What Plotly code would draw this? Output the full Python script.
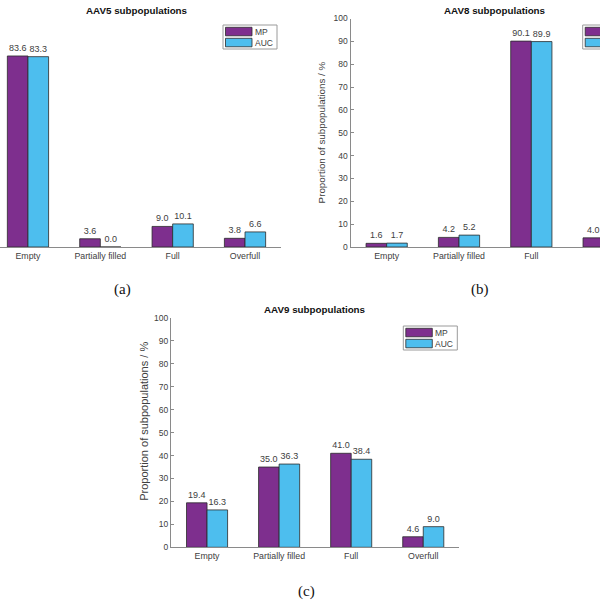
import plotly.graph_objects as go

categories = ["Empty", "Partially filled", "Full", "Overfull"]
series_names = ["MP", "AUC"]
aav5_mp = [83.6, 3.6, 9.0, 3.8]
aav5_auc = [83.3, 0.0, 10.1, 6.6]
aav8_mp = [1.6, 4.2, 90.1, 4.0]
aav8_auc = [1.7, 5.2, 89.9, 3.2]
aav9_mp = [19.4, 35.0, 41.0, 4.6]
aav9_auc = [16.3, 36.3, 38.4, 9.0]
titles = ["AAV5 subpopulations", "AAV8 subpopulations", "AAV9 subpopulations"]
panel_labels = ["(a)", "(b)", "(c)"]
y_title = "Proportion of subpopulations / %"

MP_COLOR = "#7E2F8E"
AUC_COLOR = "#4DBEEE"
EDGE = "#2b2b2b"
AXIS = "#8a8a8a"
TXT = "#404040"
FONT = "Liberation Sans, Arial, sans-serif"
W = H = 600


def px(x):
    return x / W


def py(y):
    return 1 - y / H


fig = go.Figure()

panels = [
    (aav5_mp, aav5_auc, "x", "y"),
    (aav8_mp, aav8_auc, "x2", "y2"),
    (aav9_mp, aav9_auc, "x3", "y3"),
]
for mp, auc, xa, ya in panels:
    for name, vals, col in [("MP", mp, MP_COLOR), ("AUC", auc, AUC_COLOR)]:
        fig.add_trace(go.Bar(
            x=categories, y=vals, name=name, xaxis=xa, yaxis=ya,
            marker=dict(color=col, line=dict(color=EDGE, width=0.8)),
            texttemplate="%{y:.1f}", textposition="outside",
            textfont=dict(size=9, color=TXT, family=FONT),
            cliponaxis=True, showlegend=False,
        ))

sp_a = 72.33
a_left, a_right = -8.2, 281.2
b_left = 350.5
c_left, c_right = 171.0, 459.3

common_x = dict(showline=True, linecolor=AXIS, linewidth=1, ticks="",
                showgrid=False, zeroline=False, automargin=False,
                tickfont=dict(size=8.8, color=TXT, family=FONT))
common_y = dict(range=[0, 100], dtick=10, ticks="inside", ticklen=3,
                tickcolor=AXIS, showline=True, linecolor=AXIS, linewidth=1,
                showgrid=False, zeroline=False, automargin=False,
                tickfont=dict(size=8.5, color=TXT, family=FONT))

fig.update_layout(
    template="none",
    width=W, height=H, margin=dict(l=0, r=0, t=0, b=0, pad=0, autoexpand=False),
    paper_bgcolor="white", plot_bgcolor="white",
    barmode="group", bargap=0.43, bargroupgap=0.0,
    font=dict(family=FONT),
    xaxis=dict(domain=[0, px(a_right)], anchor="y",
               range=[-0.5 + (0 - a_left) / sp_a, 3.5], **common_x),
    yaxis=dict(domain=[py(247), py(18.5)], anchor="x", visible=False,
               range=[0, 100], automargin=False),
    xaxis2=dict(domain=[px(b_left), 1.0], anchor="y2",
                range=[-0.5, -0.5 + (W - b_left) / sp_a], **common_x),
    yaxis2=dict(domain=[py(247), py(18.5)], anchor="x2", **common_y),
    xaxis3=dict(domain=[px(c_left), px(c_right)], anchor="y3",
                range=[-0.5, 3.5], **common_x),
    yaxis3=dict(domain=[py(547.3), py(318)], anchor="x3", **common_y),
)

ann = []
shapes = []
for t, (cx, cy) in zip(titles, [(136.5, 10), (495, 10), (315, 309)]):
    ann.append(dict(text="<b>%s</b>" % t, x=px(cx), y=py(cy), xref="paper", yref="paper",
                    showarrow=False, font=dict(size=9.8, color="#111", family=FONT),
                    xanchor="center", yanchor="middle"))
for (cx, cy, fs) in [(321.7, 132.7, 9.8), (143.3, 421.5, 11.0)]:
    ann.append(dict(text=y_title, x=px(cx), y=py(cy), xref="paper", yref="paper",
                    showarrow=False, textangle=-90, font=dict(size=fs, color=TXT, family=FONT),
                    xanchor="center", yanchor="middle"))
for lab, (cx, cy) in zip(panel_labels, [(123, 289), (480, 289), (306.7, 591.7)]):
    ann.append(dict(text=lab, x=px(cx), y=py(cy), xref="paper", yref="paper",
                    showarrow=False, font=dict(size=15, color="#111",
                                               family="Liberation Serif, DejaVu Serif, serif"),
                    xanchor="center", yanchor="middle"))

# legends: (box left x, top y in px, show text)
for (lx, ty, show_text) in [(223, 25, True), (582.7, 25, False), (403.3, 326, True)]:
    shapes.append(dict(type="rect", xref="paper", yref="paper",
                       x0=px(lx), x1=px(lx + 54), y0=py(ty + 24), y1=py(ty),
                       line=dict(color="#9a9a9a", width=1), fillcolor="white"))
    for i, (name, col) in enumerate(zip(series_names, [MP_COLOR, AUC_COLOR])):
        y0 = ty + 2.3 + i * 11
        shapes.append(dict(type="rect", xref="paper", yref="paper",
                           x0=px(lx + 2.5), x1=px(lx + 29), y0=py(y0 + 8.5), y1=py(y0),
                           line=dict(color=EDGE, width=0.8), fillcolor=col))
        if show_text:
            ann.append(dict(text=name, x=px(lx + 30), y=py(y0 + 4.5), xref="paper", yref="paper",
                            showarrow=False, font=dict(size=8.5, color=TXT, family=FONT),
                            xanchor="left", yanchor="middle"))

fig.update_layout(annotations=ann, shapes=shapes)
fig.write_html("out.html")
